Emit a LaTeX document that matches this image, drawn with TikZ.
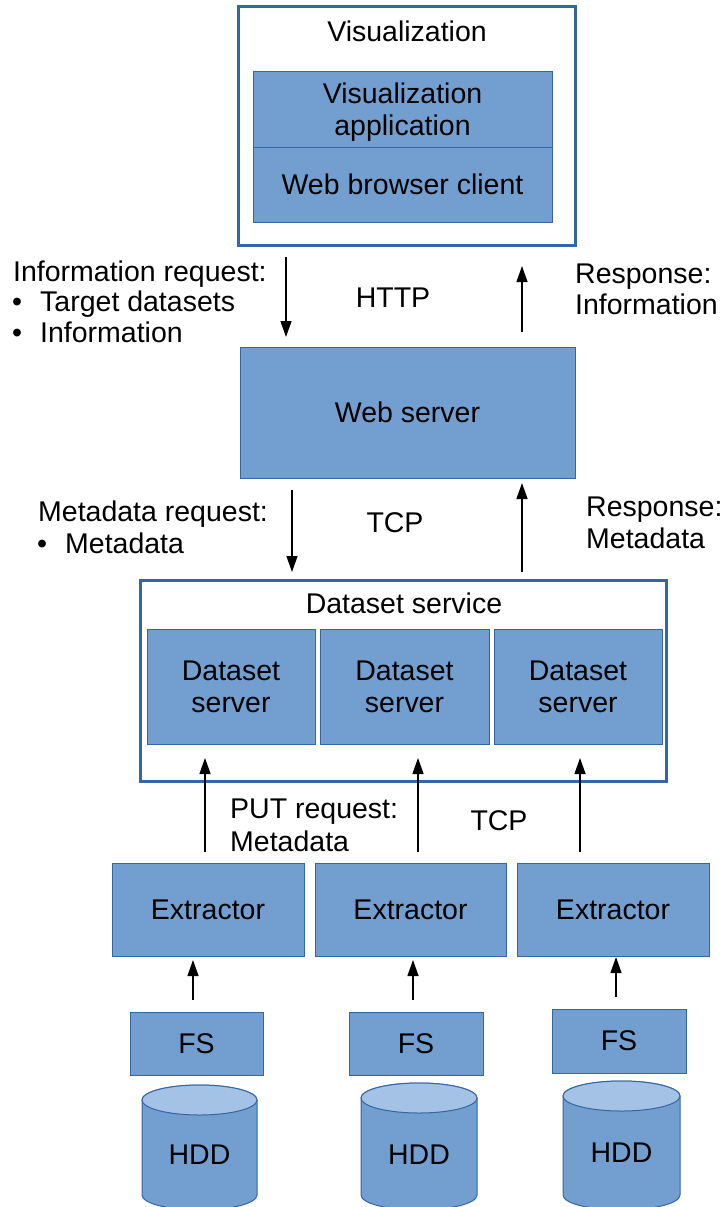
\documentclass[tikz,border=0pt]{standalone}
\usepackage{fontspec}
\setmainfont{Liberation Sans}
\usetikzlibrary{arrows.meta}
\definecolor{boxfill}{HTML}{729FCF}
\definecolor{boxline}{HTML}{3465A4}
\definecolor{topfill}{HTML}{A4C2E6}
\tikzset{
  lbl/.style={font=\fontsize{28.5}{32}\selectfont, inner sep=0pt, text=black},
  blk/.style={draw=boxline, fill=boxfill, line width=1pt, inner sep=0pt, lbl, align=center},
  frame/.style={draw=boxline, line width=3pt, fill=white, inner sep=0pt},
  arr/.style={line width=1.3pt, -{Triangle[length=16pt,width=11pt]}},
}
\begin{document}
\begin{tikzpicture}[x=1pt,y=-1pt]
\clip (0,0) rectangle (726,1207);
\fill[white] (0,0) rectangle (726,1207);

% Visualization frame
\node[frame, minimum width=337pt, minimum height=238pt] (vis) at (406.5,126) {};
\node[lbl, anchor=base] (vislbl) at (407,42) {Visualization};
\node[blk, minimum width=299pt, minimum height=75pt] (app) at (402.5,109.5) {};
\node[lbl, align=center] (apptxt) at (402.5,112.5) {Visualization\\application};
\node[blk, minimum width=299pt, minimum height=75pt] (wbc) at (402.5,184.5) {Web browser client};

% Web server
\node[blk, minimum width=335pt, minimum height=131pt] (web) at (407.5,412.5) {Web server};

% Dataset service
\node[frame, minimum width=526pt, minimum height=201pt] (dss) at (403,680.5) {};
\node[lbl, anchor=base] (dsslbl) at (404,613) {Dataset service};
\node[blk, minimum width=168pt, minimum height=115pt] (ds1) at (231,686.5) {Dataset\\server};
\node[blk, minimum width=169pt, minimum height=115pt] (ds2) at (404.5,686.5) {Dataset\\server};
\node[blk, minimum width=168pt, minimum height=115pt] (ds3) at (578,686.5) {Dataset\\server};

% Extractors
\node[blk, minimum width=192pt, minimum height=93pt] (ex1) at (208,909.5) {Extractor};
\node[blk, minimum width=191pt, minimum height=93pt] (ex2) at (410.5,909.5) {Extractor};
\node[blk, minimum width=192pt, minimum height=93pt] (ex3) at (613,909.5) {Extractor};

% FS
\node[blk, minimum width=133pt, minimum height=63pt] (fs1) at (196.5,1043.5) {FS};
\node[blk, minimum width=134pt, minimum height=63pt] (fs2) at (416,1043.5) {FS};
\node[blk, minimum width=134pt, minimum height=64pt] (fs3) at (619,1041) {FS};

% HDD cylinders
\foreach \cx/\r/\t in {199.5/57.5/1100, 419/58/1098, 621.5/58.5/1096}{
  \path[draw=boxline, fill=boxfill, line width=1pt]
    ({\cx-\r},\t) -- ({\cx-\r},1195)
    arc[start angle=180, end angle=0, x radius=\r, y radius=15]
    -- ({\cx+\r},\t)
    arc[start angle=0, end angle=-180, x radius=\r, y radius=15] -- cycle;
  \path[draw=boxline, fill=topfill, line width=1pt] (\cx,\t) ellipse[x radius=\r, y radius=15];
}
\node[lbl] (hdd1) at (199.5,1155) {HDD};
\node[lbl] (hdd2) at (419,1155) {HDD};
\node[lbl] (hdd3) at (621.5,1153) {HDD};

% arrow end points
\coordinate (a1s) at (286,257);  \coordinate (a1e) at (286,337);
\coordinate (a2s) at (522,332);  \coordinate (a2e) at (522,266);
\coordinate (a3s) at (292,490);  \coordinate (a3e) at (292,572);
\coordinate (a4s) at (522,572);  \coordinate (a4e) at (522,483);
\coordinate (a5s) at (205,852);  \coordinate (a5e) at (205,758);
\coordinate (a6s) at (418,852);  \coordinate (a6e) at (418,758);
\coordinate (a7s) at (580,852);  \coordinate (a7e) at (580,758);
\coordinate (a8s) at (193,1000); \coordinate (a8e) at (193,960);
\coordinate (a9s) at (413,1000); \coordinate (a9e) at (413,960);
\coordinate (a10s) at (616,997); \coordinate (a10e) at (616,957);
\foreach \i in {1,...,10}{ \draw[arr] (a\i s) -- (a\i e); }

% labels
\node[lbl, anchor=base west] (ir1) at (13,281) {Information request:};
\node[lbl, anchor=base west] (irb1) at (12,311) {•};
\node[lbl, anchor=base west] (ir2) at (40,311) {Target datasets};
\node[lbl, anchor=base west] (irb2) at (12,342) {•};
\node[lbl, anchor=base west] (ir3) at (40,342) {Information};
\node[lbl, anchor=base] (http) at (393,307) {HTTP};
\node[lbl, anchor=base west] (ri1) at (575,283) {Response:};
\node[lbl, anchor=base west] (ri2) at (575,314) {Information};

\node[lbl, anchor=base west] (mr1) at (38,521) {Metadata request:};
\node[lbl, anchor=base west] (mrb) at (37,553) {•};
\node[lbl, anchor=base west] (mr2) at (65,553) {Metadata};
\node[lbl, anchor=base] (tcp1) at (395,532) {TCP};
\node[lbl, anchor=base west] (rm1) at (586,516) {Response:};
\node[lbl, anchor=base west] (rm2) at (586,548) {Metadata};

\node[lbl, anchor=base west] (put1) at (230,818) {PUT request:};
\node[lbl, anchor=base west] (put2) at (230,851) {Metadata};
\node[lbl, anchor=base] (tcp2) at (499,830) {TCP};
\end{tikzpicture}
\end{document}
